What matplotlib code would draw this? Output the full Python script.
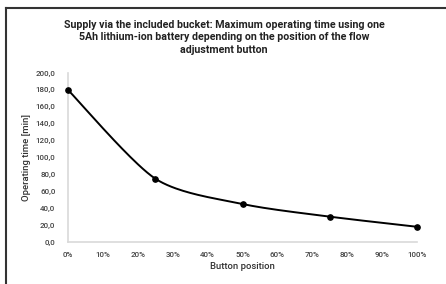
import numpy as np
import matplotlib.pyplot as plt
from matplotlib.lines import Line2D
from matplotlib.ticker import FuncFormatter

# Datos
posicion = [0, 25, 50, 75, 100]          # posición del botón [%]
tiempo = [180, 75, 45, 30, 18]           # tiempo de funcionamiento [min]
ticks_x = list(range(0, 101, 10))
ticks_y = list(range(0, 201, 20))

titulo = ("Supply via the included bucket: Maximum operating time using one\n"
          "5Ah lithium-ion battery depending on the position of the flow\n"
          "adjustment button")


def curva_suave(x, y, n=40, tension=0.8):
    """Curva tipo Bezier que pasa por los puntos (como 'línea suavizada' de Excel)."""
    x = np.asarray(x, float)
    y = np.asarray(y, float)
    px = np.concatenate([[x[0]], x, [x[-1]]])
    py = np.concatenate([[y[0]], y, [y[-1]]])
    xs, ys = [], []
    t = np.linspace(0, 1, n)
    for i in range(1, len(px) - 2):
        for p, out in ((px, xs), (py, ys)):
            b0 = p[i]
            b3 = p[i + 1]
            b1 = b0 + tension * (p[i + 1] - p[i - 1]) / 6
            b2 = b3 - tension * (p[i + 2] - p[i]) / 6
            out.extend((1 - t) ** 3 * b0 + 3 * (1 - t) ** 2 * t * b1
                       + 3 * (1 - t) * t ** 2 * b2 + t ** 3 * b3)
    return xs, ys


plt.rcParams['font.family'] = ['Roboto', 'DejaVu Sans']

fig = plt.figure(figsize=(4.46, 2.84), dpi=100)
ax = fig.add_axes([68 / 446, 1 - 242 / 284, (417 - 68) / 446, (242 - 73) / 284])

xs, ys = curva_suave(posicion, tiempo)
ax.plot(xs, ys, color='black', lw=1.4, zorder=3)
ax.plot(posicion, tiempo, 'o', color='black', ms=3.8, zorder=4, clip_on=False)

ax.set_xlim(0, 100)
ax.set_ylim(0, 200)
ax.set_xticks(ticks_x)
ax.set_yticks(ticks_y)
ax.xaxis.set_major_formatter(FuncFormatter(lambda v, p: f'{int(v)}%'))
ax.yaxis.set_major_formatter(FuncFormatter(lambda v, p: f'{v:.1f}'.replace('.', ',')))
ax.tick_params(length=0, labelsize=5.8, colors='#444444', pad=7)
ax.tick_params(axis='y', pad=9)
for lab in ax.get_xticklabels() + ax.get_yticklabels():
    lab.set_fontweight('medium')

for lado in ('top', 'right'):
    ax.spines[lado].set_visible(False)
for lado in ('left', 'bottom'):
    ax.spines[lado].set_color('#d9d9d9')
    ax.spines[lado].set_linewidth(1.2)

ax.set_xlabel('Button position', fontsize=6.8, color='#333333', labelpad=3,
              fontweight='medium')
ax.set_ylabel('Operating time [min]', fontsize=6.8, color='#333333', labelpad=3,
              fontweight='medium')

fig.text(224 / 446, 1 - 20 / 284, titulo, ha='center', va='top', fontsize=7.7,
         fontweight='bold', linespacing=1.3, color='#222222')

# Marco del recorte (solo borde superior e izquierdo)
fig.add_artist(Line2D([6 / 446, 6 / 446], [0, 1 - 8 / 284], transform=fig.transFigure,
                      color='#333333', lw=1.5))
fig.add_artist(Line2D([6 / 446, 1], [1 - 8 / 284, 1 - 8 / 284], transform=fig.transFigure,
                      color='#333333', lw=1.5))

fig.savefig('out.png', dpi=100)
